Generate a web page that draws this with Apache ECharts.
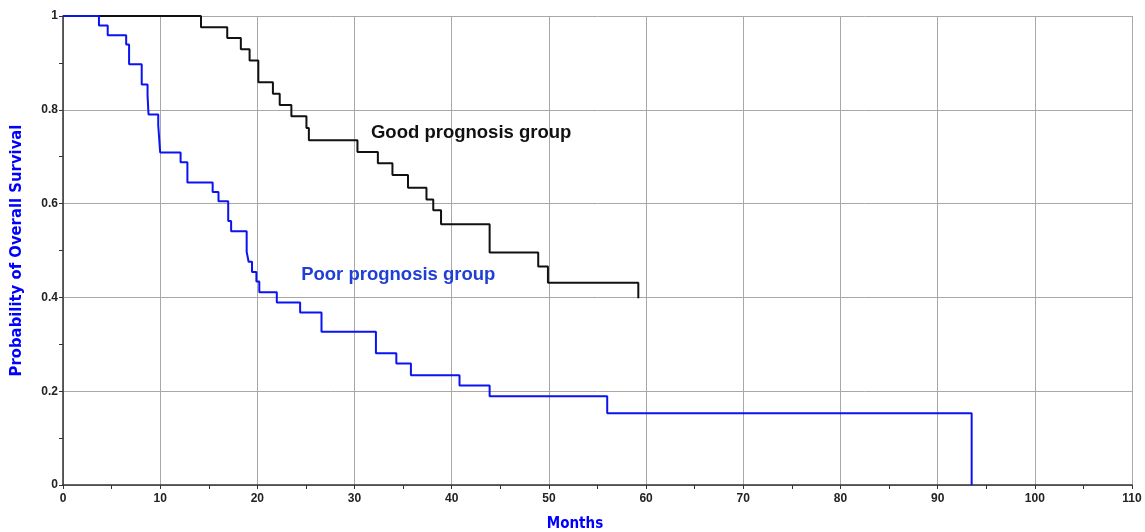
<!DOCTYPE html>
<html>
<head>
<meta charset="utf-8">
<script src="https://cdn.jsdelivr.net/npm/echarts@6/dist/echarts.min.js"></script>
<style>
html,body{margin:0;padding:0;background:#fff;}
#chart{width:1145px;height:532px;}
</style>
</head>
<body>
<div id="chart"></div>
<script>
// Good prognosis group (Kaplan-Meier steps)
const goodTimes = [0, 14.2, 16.9, 18.3, 19.2, 20.1, 21.6, 22.3, 23.5, 25.05, 25.3, 30.3, 32.4, 33.9, 35.5, 37.4, 38.1, 38.9, 43.9, 48.9, 49.9, 59.2];
const goodSurv  = [1, 0.976, 0.953, 0.929, 0.905, 0.859, 0.834, 0.810, 0.786, 0.761, 0.735, 0.710, 0.686, 0.661, 0.634, 0.609, 0.586, 0.556, 0.496, 0.466, 0.431, 0.398];
// Poor prognosis group
const poorTimes = [0, 3.7, 4.6, 6.5, 6.8, 8.1, 8.7, 8.8, 9.8, 10.0, 12.1, 12.8, 15.4, 16.0, 17.0, 17.3, 18.9, 19.1, 19.45, 19.9, 20.2, 22.0, 24.4, 26.6, 32.2, 34.3, 35.8, 40.8, 43.9, 56.0, 93.5];
const poorSurv  = [1, 0.980, 0.959, 0.939, 0.897, 0.854, 0.831, 0.790, 0.767, 0.709, 0.688, 0.645, 0.625, 0.605, 0.563, 0.541, 0.497, 0.476, 0.454, 0.434, 0.411, 0.389, 0.368, 0.327, 0.281, 0.259, 0.234, 0.212, 0.189, 0.153, 0];
// Axis ticks
const xTicks = [0, 10, 20, 30, 40, 50, 60, 70, 80, 90, 100, 110];
const yTicks = [0, 0.2, 0.4, 0.6, 0.8, 1];
// Annotation labels
const groupLabels = ['Good prognosis group', 'Poor prognosis group'];
const groupLabelPos = [[42.0, 0.751], [34.5, 0.448]];

const goodData = goodTimes.map((t, i) => [t, goodSurv[i]]);
const poorData = poorTimes.map((t, i) => [t, poorSurv[i]]);

const chart = echarts.init(document.getElementById('chart'), null, {renderer: 'canvas'});
const labelFont = {fontFamily: "'Liberation Sans', Arial, sans-serif", fontWeight: 'bold', fontSize: 12, color: '#222'};
const narrowFont = "'Liberation Sans Narrow', 'DejaVu Sans Condensed', Arial, sans-serif";

chart.setOption({
  animation: false,
  backgroundColor: '#ffffff',
  grid: {left: 63, right: 13, top: 16, bottom: 47, containLabel: false, outerBoundsMode: 'none'},
  xAxis: {
    type: 'value',
    min: xTicks[0], max: xTicks[xTicks.length - 1], interval: 10,
    name: 'Months',
    nameLocation: 'middle',
    nameGap: 32,
    nameTextStyle: {fontFamily: narrowFont, fontWeight: 'bold', fontSize: 15, color: '#0000ff', padding: [0, 45, 0, 0]},
    axisLine: {lineStyle: {color: '#333', width: 1.5}},
    axisTick: {show: true, length: 4, lineStyle: {color: '#333'}},
    minorTick: {show: true, splitNumber: 2, length: 4, lineStyle: {color: '#333'}},
    axisLabel: Object.assign({margin: 8}, labelFont),
    splitLine: {show: true, lineStyle: {color: '#a8a8a8', width: 1}}
  },
  yAxis: {
    type: 'value',
    min: yTicks[0], max: yTicks[yTicks.length - 1], interval: 0.2,
    name: 'Probability of Overall Survival',
    nameLocation: 'middle',
    nameGap: 38,
    nameTextStyle: {fontFamily: narrowFont, fontWeight: 'bold', fontSize: 16.5, color: '#0000ff'},
    axisLine: {show: true, lineStyle: {color: '#333', width: 1.5}},
    axisTick: {show: true, length: 4, lineStyle: {color: '#333'}},
    minorTick: {show: true, splitNumber: 2, length: 4, lineStyle: {color: '#333'}},
    axisLabel: Object.assign({
      margin: 5,
      formatter: v => (v === 0 ? '0' : v === 1 ? '1' : v.toFixed(1))
    }, labelFont),
    splitLine: {show: true, lineStyle: {color: '#a8a8a8', width: 1}}
  },
  series: [
    {
      name: groupLabels[0],
      type: 'line',
      step: 'end',
      data: goodData,
      showSymbol: false,
      symbol: 'none',
      lineStyle: {color: '#111111', width: 2},
      markPoint: {
        symbol: 'circle', symbolSize: 0,
        data: [{coord: groupLabelPos[0], value: groupLabels[0]}],
        label: {show: true, position: 'inside', formatter: groupLabels[0],
          fontFamily: "'Liberation Sans', Arial, sans-serif", fontSize: 18.5, fontWeight: 'bold', color: '#111'}
      }
    },
    {
      name: groupLabels[1],
      type: 'line',
      step: 'end',
      data: poorData,
      showSymbol: false,
      symbol: 'none',
      lineStyle: {color: '#0a14f0', width: 2},
      markPoint: {
        symbol: 'circle', symbolSize: 0,
        data: [{coord: groupLabelPos[1], value: groupLabels[1]}],
        label: {show: true, position: 'inside', formatter: groupLabels[1],
          fontFamily: "'Liberation Sans', Arial, sans-serif", fontSize: 18.5, fontWeight: 'bold', color: '#1f3fd6'}
      }
    }
  ]
});
</script>
</body>
</html>
